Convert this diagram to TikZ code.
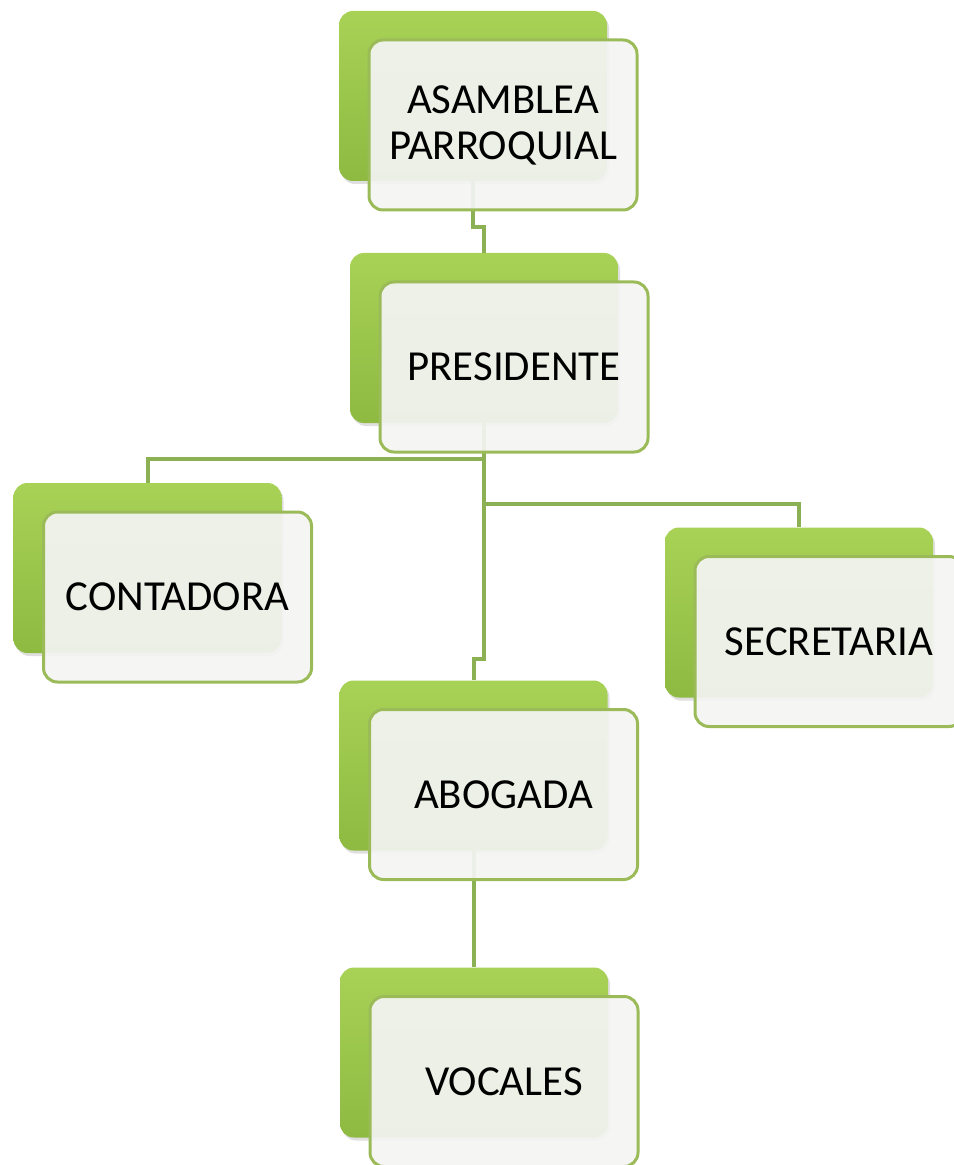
\documentclass[tikz,border=0pt]{standalone}
\usepackage{fontspec}
\setmainfont{Carlito}
\usetikzlibrary{shadows}
\begin{document}
\begin{tikzpicture}[x=0.5pt, y=-0.5pt, font=\fontsize{21.4}{23}\selectfont,
    fondo/.style={rounded corners=7pt, minimum width=134pt, minimum height=85pt,
      inner sep=0pt, top color=verdeclaro, bottom color=verdeoscuro,
      drop shadow={shadow xshift=1pt, shadow yshift=-1.5pt, opacity=0.25}},
    tarjeta/.style={rounded corners=7pt, minimum width=134pt, minimum height=85pt,
      inner sep=0pt, draw=borde, line width=1.5pt, fill=papel, fill opacity=0.93,
      text opacity=1, align=center},
    linea/.style={draw=conector, line width=2pt},
  ]
  \definecolor{verdeclaro}{RGB}{168,210,86}
  \definecolor{verdeoscuro}{RGB}{142,186,66}
  \definecolor{borde}{RGB}{155,187,89}
  \definecolor{papel}{RGB}{244,244,243}
  \definecolor{conector}{RGB}{140,176,84}
  \useasboundingbox (0,0) rectangle (953,1165);

  % Fondos verdes (detras de cada tarjeta)
  \foreach \n/\x/\y in {asamblea/473/96, presidente/484/338, contadora/147.5/568,
      secretaria/799/612.5, abogada/473.5/765.5, vocales/474/1052.5}
    \node[fondo] (\n) at (\x,\y) {};

  % Conectores entre los fondos
  \draw[linea] (asamblea.south) -- ++(0,46) -| (presidente.north);
  \draw[linea] (presidente.south) -- ++(0,36) -| (contadora.north);
  \draw[linea] (presidente.south) -- ++(0,81) -| (secretaria.north);
  \draw[linea] (presidente.south) -- ++(0,236) -| (abogada.north);
  \draw[linea] (abogada.south) -- ++(0,89) -| (vocales.north);

  % Tarjetas con el texto
  \node[tarjeta] (asamblea-t) at ([shift={(30,29)}]asamblea.center) {ASAMBLEA\\PARROQUIAL};
  \node[tarjeta] (presidente-t) at ([shift={(30,29)}]presidente.center) {PRESIDENTE};
  \node[tarjeta] (contadora-t) at ([shift={(30,29)}]contadora.center) {CONTADORA};
  \node[tarjeta] (secretaria-t) at ([shift={(30,29)}]secretaria.center) {SECRETARIA};
  \node[tarjeta] (abogada-t) at ([shift={(30,29)}]abogada.center) {ABOGADA};
  \node[tarjeta] (vocales-t) at ([shift={(30,29)}]vocales.center) {VOCALES};
\end{tikzpicture}
\end{document}
